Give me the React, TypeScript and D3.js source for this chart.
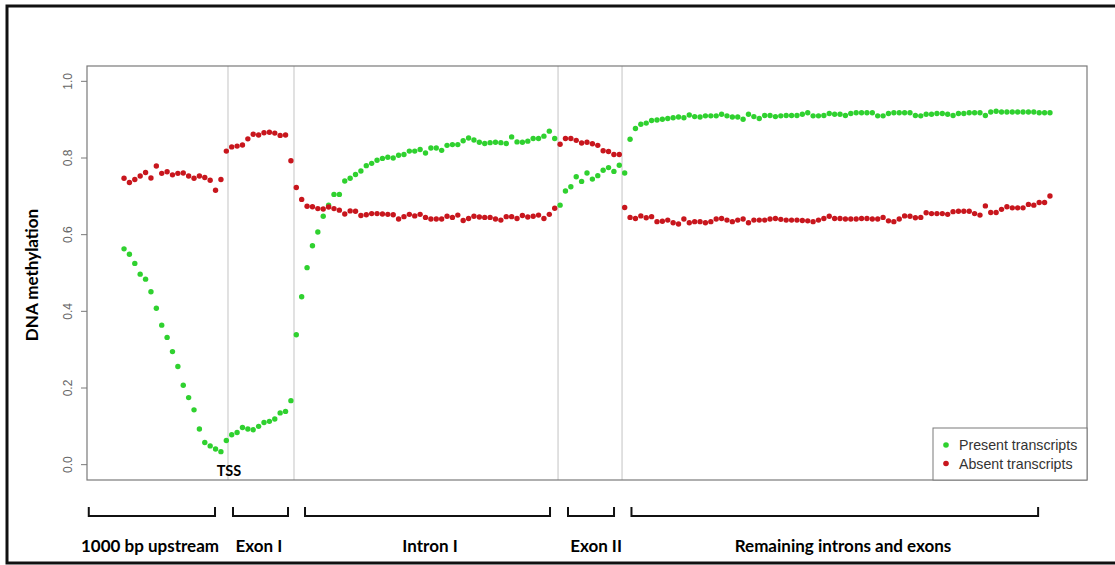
import React from "react";
import * as d3 from "d3";

// ---- Data ----
const presentUpstream = [0.563,0.549,0.525,0.497,0.484,0.451,0.408,0.364,0.332,0.295,0.256,0.207,0.175,0.143,0.093,0.058,0.049,0.041,0.034];
const presentExon1 = [0.063,0.078,0.084,0.097,0.093,0.091,0.100,0.110,0.113,0.119,0.135,0.139,0.167];
const presentIntron1 = [0.339,0.438,0.514,0.571,0.607,0.648,0.677,0.705,0.705,0.740,0.747,0.757,0.766,0.780,0.786,0.794,0.799,0.802,0.800,0.807,0.809,0.818,0.818,0.822,0.813,0.826,0.826,0.820,0.833,0.835,0.835,0.845,0.852,0.847,0.841,0.838,0.840,0.841,0.840,0.838,0.855,0.842,0.841,0.844,0.851,0.851,0.857,0.870,0.851];
const presentExon2 = [0.677,0.714,0.725,0.751,0.739,0.761,0.745,0.754,0.768,0.775,0.765,0.781,0.761];
const presentRemaining = [0.849,0.877,0.888,0.891,0.898,0.899,0.901,0.903,0.905,0.907,0.905,0.912,0.908,0.907,0.910,0.910,0.910,0.914,0.910,0.907,0.907,0.901,0.914,0.908,0.903,0.911,0.911,0.908,0.910,0.911,0.911,0.911,0.914,0.918,0.910,0.910,0.911,0.916,0.914,0.914,
  0.911,0.916,0.918,0.918,0.918,0.918,0.910,0.910,0.916,0.918,0.918,0.918,0.918,0.911,0.910,0.914,0.914,0.916,0.916,0.914,0.911,0.916,0.916,0.918,0.918,0.918,0.911,0.920,0.922,0.920,0.920,0.920,0.920,0.920,0.920,0.920,0.918,0.918,0.918];

const absentUpstream = [0.747,0.736,0.744,0.753,0.762,0.748,0.779,0.760,0.764,0.756,0.760,0.761,0.753,0.747,0.753,0.749,0.742,0.716,0.744];
const absentExon1 = [0.818,0.829,0.831,0.834,0.850,0.862,0.860,0.866,0.867,0.865,0.859,0.860,0.793];
const absentIntron1 = [0.723,0.692,0.674,0.673,0.668,0.667,0.672,0.668,0.664,0.654,0.662,0.661,0.650,0.652,0.655,0.655,0.654,0.653,0.652,0.641,0.647,0.653,0.649,0.653,0.645,0.641,0.641,0.641,0.648,0.645,0.651,0.637,0.642,0.648,0.646,0.645,0.645,0.641,0.638,0.647,0.647,0.642,0.650,0.646,0.648,0.651,0.642,0.653,0.669];
const absentExon2 = [0.836,0.851,0.851,0.846,0.839,0.841,0.837,0.833,0.819,0.817,0.809,0.809,0.671];
const absentRemaining = [0.645,0.642,0.649,0.644,0.647,0.634,0.635,0.638,0.631,0.628,0.641,0.631,0.634,0.634,0.631,0.634,0.641,0.642,0.638,0.634,0.638,0.641,0.631,0.638,0.638,0.638,0.641,0.642,0.640,0.638,0.638,0.638,0.637,0.636,0.634,0.638,0.642,0.648,0.642,0.642,
  0.641,0.641,0.641,0.642,0.642,0.641,0.641,0.645,0.636,0.634,0.641,0.649,0.648,0.644,0.645,0.657,0.655,0.655,0.655,0.653,0.660,0.661,0.661,0.661,0.655,0.651,0.675,0.658,0.658,0.666,0.673,0.670,0.670,0.670,0.679,0.677,0.684,0.684,0.701];

const present = [...presentUpstream, ...presentExon1, ...presentIntron1, ...presentExon2, ...presentRemaining];
const absent = [...absentUpstream, ...absentExon1, ...absentIntron1, ...absentExon2, ...absentRemaining];

// region boundaries (in point-index units)
const separators = [20.31, 32.57, 81.62, 93.51];
const regionLabels = ["1000 bp upstream", "Exon I", "Intron I", "Exon II", "Remaining introns and exons"];
const bracketStart = [-5.55, 21.24, 34.62, 83.47, 95.26];
const bracketEnd = [17.9, 31.46, 80.13, 92.02, 170.8];
const labelCenter = [5.82, 26.07, 57.84, 88.68, 134.56];
const yTicks = [0, 0.2, 0.4, 0.6, 0.8, 1.0];
const legendLabels = ["Present transcripts", "Absent transcripts"];

const GREEN = "#2fd12f";
const RED = "#c8161d";

export default function App() {
  const W = 1115, H = 565;
  const left = 87, right = 1087, top = 66, bottom = 480;
  const n = present.length;
  const xPad = (n - 1) * 0.04;
  const x = d3.scaleLinear().domain([1 - xPad, n + xPad]).range([left, right]);
  const y = d3.scaleLinear().domain([-0.04, 1.04]).range([bottom, top]);

  const boldFont = "Lato, 'Open Sans', sans-serif";
  const rFont = "'Liberation Sans', Arial, sans-serif";

  const bracketY = 516;
  const bracketTop = 507;

  return (
    <svg width={W} height={H} style={{ position: "absolute", left: 0, top: 0, background: "#fff" }}>
      {/* outer frame */}
      <rect x={7} y={6} width={1115} height={557} fill="#fff" stroke="#111" strokeWidth={3} />

      {/* separators */}
      {separators.map((s, i) => (
        <line key={"s" + i} x1={x(s)} x2={x(s)} y1={top} y2={bottom} stroke="#c4c4c4" strokeWidth={1} />
      ))}

      {/* plot box */}
      <rect x={left} y={top} width={right - left} height={bottom - top} fill="none" stroke="#7a7a7a" strokeWidth={1.2} />

      {/* y axis */}
      {yTicks.map((t) => (
        <g key={"t" + t}>
          <line x1={left - 6} x2={left} y1={y(t)} y2={y(t)} stroke="#7a7a7a" strokeWidth={1} />
          <text
            x={68}
            y={y(t)}
            transform={`rotate(-90, 68, ${y(t)})`}
            textAnchor="middle"
            dominantBaseline="central"
            fontFamily={rFont}
            fontSize={12}
            fill="#666"
          >
            {t.toFixed(1)}
          </text>
        </g>
      ))}
      <text
        x={31}
        y={275}
        transform="rotate(-90, 31, 275)"
        textAnchor="middle"
        dominantBaseline="central"
        fontFamily={boldFont}
        fontWeight="bold"
        fontSize={17}
        fill="#000"
      >
        DNA methylation
      </text>

      {/* points */}
      {present.map((v, i) => (
        <circle key={"p" + i} cx={x(i + 1)} cy={y(v)} r={2.7} fill={GREEN} />
      ))}
      {absent.map((v, i) => (
        <circle key={"a" + i} cx={x(i + 1)} cy={y(v)} r={2.7} fill={RED} />
      ))}

      {/* TSS */}
      <text x={x(separators[0]) + 1} y={476} textAnchor="middle" fontFamily={boldFont} fontWeight="bold" fontSize={14.5} fill="#000">
        TSS
      </text>

      {/* legend */}
      <rect x={933} y={428} width={154} height={52} fill="#fff" stroke="#7a7a7a" strokeWidth={1} />
      {legendLabels.map((l, i) => (
        <g key={"l" + i}>
          <circle cx={946} cy={445 + i * 18.5} r={2.8} fill={i === 0 ? GREEN : RED} />
          <text x={959} y={445 + i * 18.5} dominantBaseline="central" fontFamily={rFont} fontSize={14.2} fill="#333">
            {l}
          </text>
        </g>
      ))}

      {/* brackets and region labels */}
      {regionLabels.map((lab, i) => {
        const x0 = x(bracketStart[i]);
        const x1 = x(bracketEnd[i]);
        return (
          <g key={"b" + i}>
            <path
              d={`M${x0},${bracketTop} V${bracketY} H${x1} V${bracketTop}`}
              fill="none"
              stroke="#111"
              strokeWidth={2}
            />
            <text
              x={x(labelCenter[i])}
              y={552}
              textAnchor="middle"
              fontFamily={boldFont}
              fontWeight="bold"
              fontSize={17}
              fill="#000"
            >
              {lab}
            </text>
          </g>
        );
      })}
    </svg>
  );
}
